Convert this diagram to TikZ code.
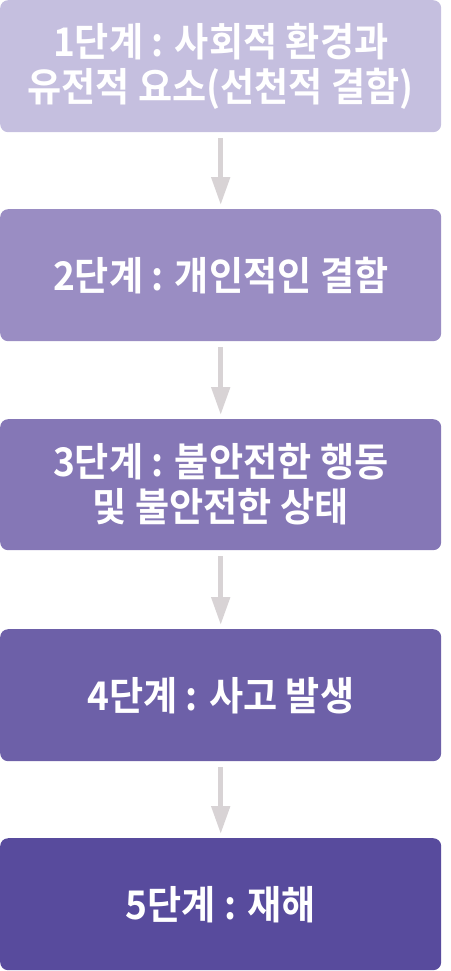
\documentclass[tikz,border=0pt]{standalone}
\usepackage{fontspec}
\setmainfont{Noto Sans CJK KR}[BoldFont={* Bold},BoldFeatures={FakeStretch=0.94}]
\usetikzlibrary{arrows.meta}
\definecolor{cA}{HTML}{C5BFDF}
\definecolor{cB}{HTML}{9A8DC3}
\definecolor{cC}{HTML}{8577B6}
\definecolor{cD}{HTML}{6D60A8}
\definecolor{cE}{HTML}{584B9D}
\definecolor{arr}{HTML}{D8D3D5}
\begin{document}
\begin{tikzpicture}[x=1pt,y=-1pt,
  stagebox/.style={draw=none,rounded corners=8pt,minimum width=441pt,anchor=north west,
    inner sep=0pt,text=white,align=center,
    font=\fontsize{39.5}{45}\selectfont\bfseries},
  flowarrow/.style={draw=arr,line width=5pt,-{Triangle[width=18pt,length=28pt]}}]
\useasboundingbox (0,0) rectangle (450,971);
\node[stagebox,fill=cA,minimum height=132pt] (s1) at (0,0) {1단계 : 사회적 환경과\\유전적 요소(선천적 결함)};
\node[stagebox,fill=cB,minimum height=132pt] (s2) at (0,209) {2단계 : 개인적인 결함};
\node[stagebox,fill=cC,minimum height=131pt] (s3) at (0,419) {3단계 : 불안전한 행동\\및 불안전한 상태};
\node[stagebox,fill=cD,minimum height=132pt] (s4) at (0,629) {4단계 : 사고 발생};
\node[stagebox,fill=cE,minimum height=132pt] (s5) at (0,838) {5단계 : 재해};
\foreach \a/\b in {s1/s2,s2/s3,s3/s4,s4/s5}
  \draw[flowarrow] ([yshift=-6pt]\a.south) -- ([yshift=4pt]\b.north);
\end{tikzpicture}
\end{document}
